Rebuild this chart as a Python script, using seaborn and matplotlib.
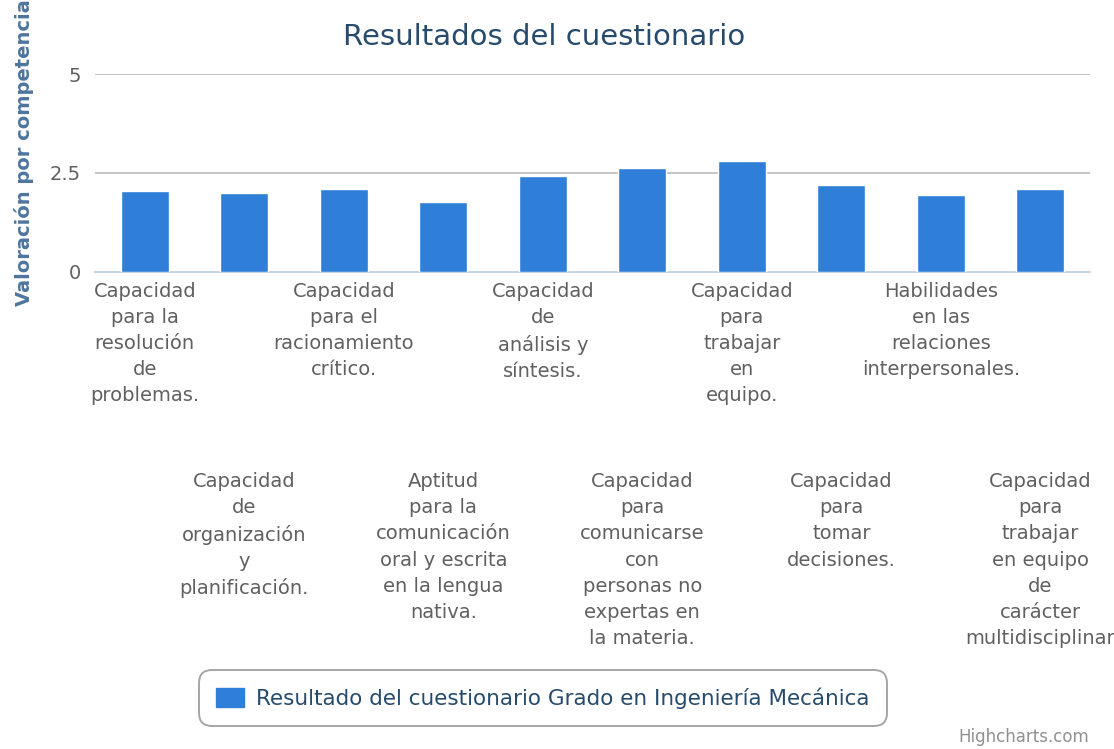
import matplotlib
matplotlib.use('Agg')
import matplotlib.pyplot as plt
import seaborn as sns
import numpy as np
from matplotlib.patches import Patch

# datos del gráfico
competencias = [
    'Capacidad\npara la\nresolución\nde\nproblemas.',
    'Capacidad\nde\norganización\ny\nplanificación.',
    'Capacidad\npara el\nracionamiento\ncrítico.',
    'Aptitud\npara la\ncomunicación\noral y escrita\nen la lengua\nnativa.',
    'Capacidad\nde\nanálisis y\nsíntesis.',
    'Capacidad\npara\ncomunicarse\ncon\npersonas no\nexpertas en\nla materia.',
    'Capacidad\npara\ntrabajar\nen\nequipo.',
    'Capacidad\npara\ntomar\ndecisiones.',
    'Habilidades\nen las\nrelaciones\ninterpersonales.',
    'Capacidad\npara\ntrabajar\nen equipo\nde\ncarácter\nmultidisciplinar',
]
valores = [2.03, 1.99, 2.08, 1.75, 2.42, 2.61, 2.81, 2.18, 1.94, 2.08]
y_ticks = [0, 2.5, 5]
y_tick_labels = ['0', '2.5', '5']
serie = 'Resultado del cuestionario Grado en Ingeniería Mecánica'

sns.set_style('white')
plt.rcParams['font.family'] = ['DejaVu Sans']

fig = plt.figure(figsize=(11.14, 7.49), dpi=100)
ax = fig.add_axes([0.0853, 0.6373, 0.8932, 0.2639])

x_idx = list(range(len(valores)))
sns.barplot(x=x_idx, y=valores, color='#2f7ed8', saturation=1, width=0.48,
            edgecolor='white', linewidth=1, ax=ax, zorder=3)

ax.set_ylim(0, 5)
ax.set_xlim(-0.5, len(valores) - 0.5)
ax.set_yticks(y_ticks)
ax.set_yticklabels(y_tick_labels, fontsize=14, color='#606060')
for y in y_ticks[1:]:
    ax.axhline(y, color='#C0C0C0', linewidth=1.3, zorder=1)

for s in ['top', 'right', 'left']:
    ax.spines[s].set_visible(False)
ax.spines['bottom'].set_color('#C0D0E0')
ax.spines['bottom'].set_linewidth(1.3)
ax.tick_params(axis='y', length=0, pad=10)

# etiquetas escalonadas
ax.set_xticks(x_idx)
ax.set_xticklabels(competencias, fontsize=14, color='#606060', linespacing=1.47,
                   ha='center', va='top')
ax.tick_params(axis='x', which='major', length=0)
for i, tick in enumerate(ax.xaxis.get_major_ticks()):
    tick.set_pad(7.5 if i % 2 == 0 else 144.5)
# marcas entre categorías
ax.set_xticks(np.arange(-0.5, len(valores), 1.0), minor=True)
ax.tick_params(axis='x', which='minor', length=7, width=1.3, color='#C0D0E0')
ax.set_xlabel('')

fig.text(0.488, 0.951, 'Resultados del cuestionario', fontsize=21,
         color='#274b6d', ha='center', va='center')
fig.text(0.0215, 0.796, 'Valoración por competencia', rotation=90, fontsize=14,
         fontweight='bold', color='#4d759e', ha='center', va='center')

leg = fig.legend(handles=[Patch(facecolor='#2f7ed8', edgecolor='#2f7ed8', label=serie)],
                 loc='center', bbox_to_anchor=(0.4875, 0.068), fontsize=15.5,
                 frameon=True, fancybox=True, handlelength=1.3, handleheight=1.0,
                 borderpad=0.6, borderaxespad=0, handletextpad=0.55)
for t in leg.get_texts():
    t.set_color('#274b6d')
leg.get_frame().set_edgecolor('#909090')
leg.get_frame().set_linewidth(1.4)
leg.get_frame().set_boxstyle('round,pad=0.2,rounding_size=0.6')

fig.text(0.978, 0.004, 'Highcharts.com', fontsize=12, color='#909090',
         ha='right', va='bottom')

fig.savefig('out.png', dpi=100)
